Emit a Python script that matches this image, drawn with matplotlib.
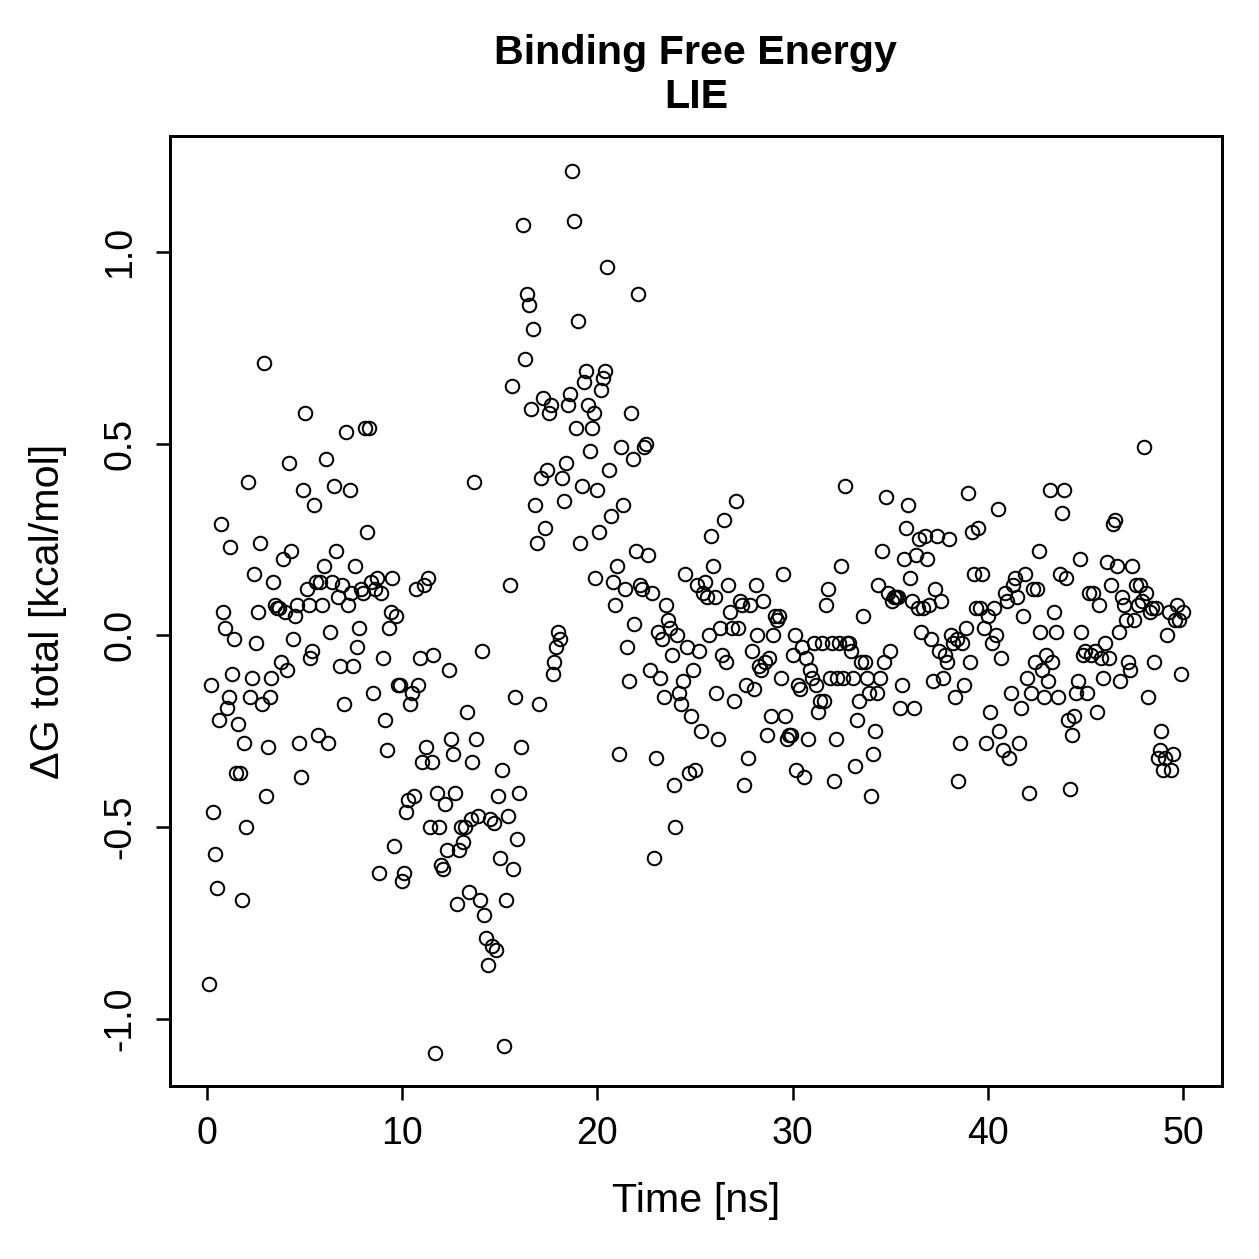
import matplotlib
matplotlib.use('Agg')
import matplotlib.pyplot as plt
import numpy as np

# ~~~ DATA ~~~~~~~~~~~~~~~~~~~~~~~~~~~~~~~~~~~~~~~~~~~~~~~~~~~~~~~~~~~~~~~~~~~~
# dG total per frame, in chunks of 5 ns
dg_00_05 = [-0.91, -0.13, -0.46, -0.57, -0.66, -0.22, 0.29, 0.06, 0.02, -0.19,
            -0.16, 0.23, -0.10, -0.01, -0.36, -0.23, -0.36, -0.69, -0.28, -0.50,
            0.40, -0.16, -0.11, 0.16, -0.02, 0.06, 0.24, -0.18, 0.71, -0.42,
            -0.29, -0.16, -0.11, 0.14, 0.08, 0.07, 0.07, -0.07, 0.20, 0.06,
            -0.09, 0.45, 0.22, -0.01, 0.05, 0.08, -0.28, -0.37, 0.38, 0.58]
dg_05_10 = [0.12, 0.08, -0.06, -0.04, 0.34, 0.14, -0.26, 0.14, 0.08, 0.18,
            0.46, -0.28, 0.01, 0.14, 0.39, 0.22, 0.10, -0.08, 0.13, -0.18,
            0.53, 0.08, 0.38, 0.11, -0.08, 0.18, -0.03, 0.02, 0.12, 0.11,
            0.54, 0.27, 0.54, 0.14, -0.15, 0.12, 0.15, -0.62, 0.11, -0.06,
            -0.22, -0.30, 0.02, 0.06, 0.15, -0.55, 0.05, -0.13, -0.13, -0.64]
dg_10_15 = [-0.62, -0.46, -0.43, -0.18, -0.15, -0.42, 0.12, -0.13, -0.06, -0.33,
            0.13, -0.29, 0.15, -0.50, -0.33, -0.05, -1.09, -0.41, -0.50, -0.60,
            -0.61, -0.44, -0.56, -0.09, -0.27, -0.31, -0.41, -0.70, -0.56, -0.50,
            -0.54, -0.50, -0.20, -0.67, -0.48, -0.33, 0.40, -0.27, -0.47, -0.69,
            -0.04, -0.73, -0.79, -0.86, -0.48, -0.81, -0.49, -0.82, -0.42, -0.58]
dg_15_20 = [-0.35, -1.07, -0.69, -0.47, 0.13, 0.65, -0.61, -0.16, -0.53, -0.41,
            -0.29, 1.07, 0.72, 0.89, 0.86, 0.59, 0.80, 0.34, 0.24, -0.18,
            0.41, 0.62, 0.28, 0.43, 0.58, 0.60, -0.10, -0.07, -0.03, 0.01,
            -0.01, 0.41, 0.35, 0.45, 0.60, 0.63, 1.21, 1.08, 0.54, 0.82,
            0.24, 0.39, 0.66, 0.69, 0.60, 0.48, 0.54, 0.58, 0.15, 0.38]
dg_20_25 = [0.27, 0.64, 0.67, 0.69, 0.96, 0.43, 0.31, 0.14, 0.08, 0.18,
            -0.31, 0.49, 0.34, 0.12, -0.03, -0.12, 0.58, 0.46, 0.03, 0.22,
            0.89, 0.13, 0.12, 0.49, 0.50, 0.21, -0.09, 0.11, -0.58, -0.32,
            0.01, -0.11, -0.01, -0.16, 0.08, 0.04, 0.02, -0.05, -0.39, -0.50,
            0.00, -0.15, -0.18, -0.12, 0.16, -0.03, -0.36, -0.21, -0.09, -0.35]
dg_25_30 = [0.13, -0.04, -0.25, 0.11, 0.14, 0.10, 0.00, 0.26, 0.18, 0.10,
            -0.15, -0.27, 0.02, -0.05, 0.30, -0.07, 0.13, 0.06, 0.02, -0.17,
            0.35, 0.02, 0.09, 0.08, -0.39, -0.13, -0.32, 0.08, -0.04, -0.14,
            0.13, 0.00, -0.08, -0.09, 0.09, -0.07, -0.26, -0.06, -0.21, 0.00,
            0.05, 0.04, 0.05, -0.11, 0.16, -0.21, -0.27, -0.26, -0.26, -0.05]
dg_30_35 = [0.00, -0.35, -0.13, -0.14, -0.03, -0.37, -0.06, -0.27, -0.09, -0.11,
            -0.02, -0.13, -0.20, -0.17, -0.02, -0.17, 0.08, 0.12, -0.11, -0.02,
            -0.38, -0.27, -0.11, -0.02, 0.18, -0.11, 0.39, -0.02, -0.02, -0.04,
            -0.11, -0.34, -0.22, -0.17, -0.07, 0.05, -0.07, -0.11, -0.15, -0.42,
            -0.31, -0.25, -0.15, 0.13, -0.11, 0.22, -0.07, 0.36, 0.11, -0.04]
dg_35_40 = [0.09, 0.10, 0.10, 0.10, -0.19, -0.13, 0.20, 0.28, 0.34, 0.15,
            0.09, -0.19, 0.21, 0.07, 0.25, 0.01, 0.07, 0.26, 0.20, 0.08,
            -0.01, -0.12, 0.12, 0.26, -0.04, 0.09, -0.11, -0.05, -0.07, 0.25,
            0.00, -0.02, -0.16, -0.01, -0.38, -0.28, -0.02, -0.13, 0.02, 0.37,
            -0.07, 0.27, 0.16, 0.07, 0.28, 0.07, 0.16, 0.02, -0.28, 0.05]
dg_40_45 = [-0.20, -0.02, 0.07, 0.00, 0.33, -0.25, -0.06, -0.30, 0.11, 0.09,
            -0.32, -0.15, 0.13, 0.15, 0.10, -0.28, -0.19, 0.05, 0.16, -0.11,
            -0.41, -0.15, 0.12, -0.07, 0.12, 0.22, 0.01, -0.09, -0.16, -0.05,
            -0.12, 0.38, -0.07, 0.06, 0.01, -0.16, 0.16, 0.32, 0.38, 0.15,
            -0.22, -0.40, -0.26, -0.21, -0.15, -0.12, 0.20, 0.01, -0.05, -0.04]
dg_45_50 = [-0.15, 0.11, -0.05, 0.11, -0.04, -0.20, 0.08, -0.06, -0.11, -0.02,
            0.19, -0.06, 0.13, 0.29, 0.30, 0.18, 0.01, -0.12, 0.10, 0.08,
            0.04, -0.07, -0.09, 0.18, 0.04, 0.13, 0.08, 0.13, 0.09, 0.49,
            0.11, -0.16, 0.06, 0.07, -0.07, 0.07, -0.32, -0.30, -0.25, -0.35,
            -0.32, 0.00, 0.06, -0.35, -0.31, 0.04, 0.08, 0.04, -0.10, 0.06]

dg_total = np.array(dg_00_05 + dg_05_10 + dg_10_15 + dg_15_20 + dg_20_25
                    + dg_25_30 + dg_30_35 + dg_35_40 + dg_40_45 + dg_45_50)
frame_step = 0.1  # ns per frame
time_ns = frame_step * np.arange(1, len(dg_total) + 1)

x_ticks = [0, 10, 20, 30, 40, 50]
y_ticks = [-1.0, -0.5, 0.0, 0.5, 1.0]

# ~~~ PLOT ~~~~~~~~~~~~~~~~~~~~~~~~~~~~~~~~~~~~~~~~~~~~~~~~~~~~~~~~~~~~~~~~~~~~
plt.rcParams['font.family'] = ['Liberation Sans', 'DejaVu Sans']
plt.rcParams['axes.unicode_minus'] = False

fig = plt.figure(figsize=(1259 / 180, 1259 / 180), dpi=180)
ax = fig.add_axes([0.135, 0.1374, 0.8356, 0.7546])

ax.plot(time_ns, dg_total, 'o', mfc='none', mec='black', ms=5.4, mew=0.8)

ax.set_xlim(-1.9, 52.0)
ax.set_ylim(-1.175, 1.302)
ax.set_xticks(x_ticks)
ax.set_yticks(y_ticks)
ax.set_yticklabels([f'{v:.1f}' for v in y_ticks], rotation=90, va='center')
ax.tick_params(direction='out', length=5.6, width=1.0, labelsize=15)
ax.tick_params(axis='x', pad=6.5)
ax.tick_params(axis='y', pad=7)
for s in ax.spines.values():
    s.set_linewidth(1.2)

ax.set_xlabel('Time [ns]', fontsize=16.5, labelpad=12)
ax.set_ylabel('ΔG total [kcal/mol]', fontsize=16.5, labelpad=14)
ax.set_title('Binding Free Energy\nLIE', fontsize=16.5, fontweight='bold',
             pad=11, linespacing=1.2)

plt.savefig('out.png', dpi=180)
plt.close()
